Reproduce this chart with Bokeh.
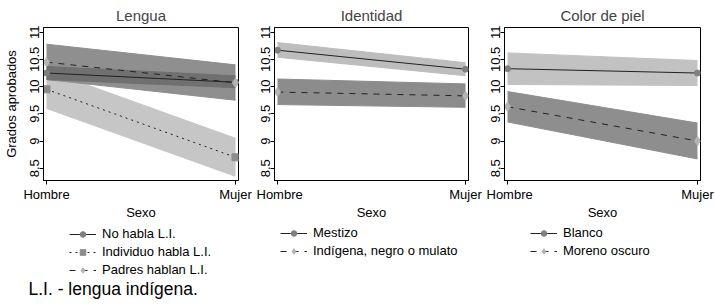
from bokeh.plotting import figure
from bokeh.layouts import row, column
from bokeh.models import FixedTicker, Legend, LegendItem, Label
from bokeh.embed import file_html
from bokeh.resources import INLINE

# ---------------- data ----------------
sexo = ["Hombre", "Mujer"]
sexo_x = [0, 1]
y_ticks = [8.5, 9, 9.5, 10, 10.5, 11]
y_tick_labels = ["8.5", "9", "9.5", "10", "10.5", "11"]

# Lengua
no_habla = [10.25, 10.08]
no_habla_lo = [10.13, 9.98]
no_habla_hi = [10.37, 10.20]
individuo = [9.95, 8.70]
individuo_lo = [9.60, 8.35]
individuo_hi = [10.30, 9.05]
padres = [10.45, 10.07]
padres_lo = [10.13, 9.75]
padres_hi = [10.78, 10.40]

# Identidad
mestizo = [10.67, 10.32]
mestizo_lo = [10.54, 10.20]
mestizo_hi = [10.81, 10.44]
indigena = [9.90, 9.83]
indigena_lo = [9.67, 9.62]
indigena_hi = [10.14, 10.05]

# Color de piel
blanco = [10.33, 10.25]
blanco_lo = [10.04, 10.02]
blanco_hi = [10.62, 10.48]
moreno = [9.63, 9.00]
moreno_lo = [9.35, 8.67]
moreno_hi = [9.91, 9.33]

FONT = "Liberation Sans"
DARK_BAND = "#707070"
MID_BAND = "#8f8f8f"
LIGHT_BAND = "#c6c6c6"
LINE_COLOR = "#222222"
X_RANGE = (-0.016, 1.016)
Y_RANGE = (8.274, 11.087)


def make_panel(title, bands, series, width, bl, br, ylabel):
    p = figure(width=width, height=222, x_range=X_RANGE, y_range=Y_RANGE,
               output_backend="svg", toolbar_location=None,
               min_border_left=bl, min_border_right=br, min_border_top=25, min_border_bottom=35)
    p.title.text = title
    p.title.align = "center"
    p.title.text_font = FONT
    p.title.text_font_size = "15px"
    p.title.text_font_style = "normal"
    p.title.standoff = 8
    p.xgrid.visible = False
    p.ygrid.visible = False
    p.outline_line_color = "black"
    p.outline_line_width = 1
    p.outline_line_alpha = 1
    p.background_fill_color = "white"

    xa = p.xaxis[0]
    xa.ticker = FixedTicker(ticks=sexo_x)
    xa.major_label_overrides = {x: s for x, s in zip(sexo_x, sexo)}
    xa.axis_label = "Sexo"
    ya = p.yaxis[0]
    ya.ticker = FixedTicker(ticks=y_ticks)
    ya.major_label_overrides = {t: s for t, s in zip(y_ticks, y_tick_labels)}
    ya.major_label_orientation = "vertical"
    if ylabel:
        ya.axis_label = ylabel
    for ax in (xa, ya):
        ax.axis_line_color = "black"
        ax.axis_line_width = 1
        ax.major_tick_line_color = "black"
        ax.minor_tick_line_color = None
        ax.major_tick_out = 4
        ax.major_tick_in = 0
        ax.major_label_text_font = FONT
        ax.major_label_text_font_size = "13px"
        ax.major_label_text_color = "black"
        ax.major_label_standoff = 0
        ax.axis_label_text_font = FONT
        ax.axis_label_text_font_size = "13px"
        ax.axis_label_text_font_style = "normal"
        ax.axis_label_text_color = "black"
    xa.major_label_standoff = 2
    xa.axis_label_standoff = 0
    ya.axis_label_standoff = 9

    for lo, hi, col in bands:
        p.varea(x=sexo_x, y1=lo, y2=hi, fill_color=col, fill_alpha=1)
        p.line(x=sexo_x, y=lo, line_color=col, line_width=1)
        p.line(x=sexo_x, y=hi, line_color=col, line_width=1)

    for label, y, dash, marker, mcol, msize in series:
        p.line(x=sexo_x, y=y, line_color=LINE_COLOR, line_width=1, line_dash=dash)
        p.scatter(x=sexo_x, y=y, marker=marker, size=msize, fill_color=mcol, line_color=mcol)
    return p


def make_legend(series, width, bl, br, loc):
    # same borders as the panel above so the frames stay aligned;
    # the series are drawn out of this strip's y range, only the legend keys show
    lf = figure(width=width, height=58, x_range=X_RANGE, y_range=(0, 1),
                output_backend="svg", toolbar_location=None,
                x_axis_location=None, y_axis_location=None,
                min_border_left=bl, min_border_right=br, min_border_top=0, min_border_bottom=0)
    lf.outline_line_color = None
    lf.xgrid.visible = False
    lf.ygrid.visible = False
    items = []
    for label, y, dash, marker, mcol, msize in series:
        lr = lf.line(x=sexo_x, y=y, line_color=LINE_COLOR, line_width=1, line_dash=dash)
        sr = lf.scatter(x=sexo_x, y=y, marker=marker, size=msize, fill_color=mcol, line_color=mcol)
        items.append(LegendItem(label=label, renderers=[lr, sr]))
    leg = Legend(items=items, location=loc, orientation="vertical",
                 border_line_color=None, background_fill_alpha=0,
                 padding=0, margin=0, spacing=3, glyph_width=27, glyph_height=14,
                 label_height=14, label_standoff=6,
                 label_text_font=FONT, label_text_font_size="13px",
                 label_text_color="black")
    lf.add_layout(leg)
    return lf


s1 = [("No habla L.I.", no_habla, "solid", "circle", "#808080", 6),
      ("Individuo habla L.I.", individuo, "dotted", "square", "#8c8c8c", 7),
      ("Padres hablan L.I.", padres, "dashed", "diamond", "#b4b4b4", 9)]
s2 = [("Mestizo", mestizo, "solid", "circle", "#808080", 6),
      ("Indígena, negro o mulato", indigena, "dashed", "diamond", "#b4b4b4", 9)]
s3 = [("Blanco", blanco, "solid", "circle", "#808080", 6),
      ("Moreno oscuro", moreno, "dashed", "diamond", "#b4b4b4", 9)]

p1 = make_panel(
    "Lengua",
    [(individuo_lo, individuo_hi, LIGHT_BAND),
     (padres_lo, padres_hi, MID_BAND),
     (no_habla_lo, no_habla_hi, DARK_BAND)],
    s1, 256, 42, 18, "Grados aprobados")
p2 = make_panel(
    "Identidad",
    [(mestizo_lo, mestizo_hi, "#bdbdbd"),
     (indigena_lo, indigena_hi, "#8c8c8c")],
    s2, 230, 18, 18, None)
p3 = make_panel(
    "Color de piel",
    [(blanco_lo, blanco_hi, "#c2c2c2"),
     (moreno_lo, moreno_hi, "#8e8e8e")],
    s3, 228, 18, 14, None)

l1 = make_legend(s1, 256, 42, 18, (26, 3))
l2 = make_legend(s2, 230, 18, 18, (6, 22))
l3 = make_legend(s3, 228, 18, 14, (26, 22))

foot = figure(width=714, height=25, output_backend="svg", toolbar_location=None,
              x_axis_location=None, y_axis_location=None,
              min_border=0, min_border_left=0, min_border_right=0,
              min_border_top=0, min_border_bottom=0)
foot.outline_line_color = None
foot.xgrid.visible = False
foot.ygrid.visible = False
foot.add_layout(Label(x=28, y=17, x_units="screen", y_units="screen",
                      text="L.I. - lengua indígena.", text_font=FONT,
                      text_font_size="17.5px", text_baseline="middle", text_color="black"))

layout = column(row(column(p1, l1), column(p2, l2), column(p3, l3)), foot)
open("out.html", "w").write(file_html(layout, INLINE))
